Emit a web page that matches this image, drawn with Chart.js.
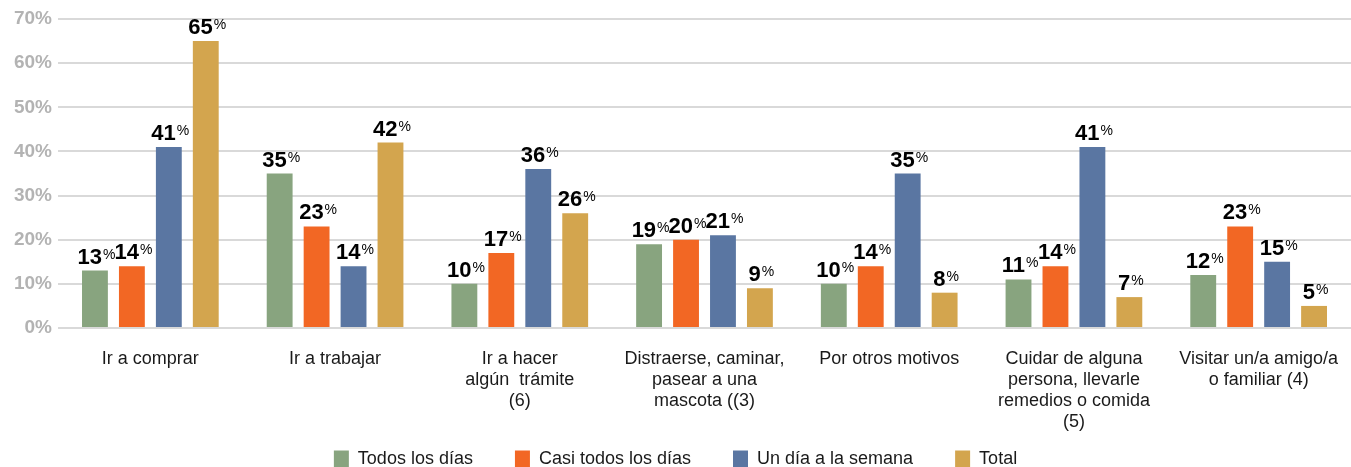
<!DOCTYPE html>
<html>
<head>
<meta charset="utf-8">
<script src="https://cdn.jsdelivr.net/npm/chart.js@4/dist/chart.umd.min.js"></script>
<style>
  html, body { margin: 0; padding: 0; background: #fff; }
  #wrap { width: 1351px; height: 467px; }
</style>
</head>
<body>
<div id="wrap"><canvas id="chart" width="1351" height="467"></canvas></div>
<script>
// categories (x axis labels, multi-line)
const categories = [
  'Ir a comprar',
  'Ir a trabajar',
  ['Ir a hacer', 'algún  trámite', '(6)'],
  ['Distraerse, caminar,', 'pasear a una', 'mascota ((3)'],
  'Por otros motivos',
  ['Cuidar de alguna', 'persona, llevarle', 'remedios o comida', '(5)'],
  ['Visitar un/a amigo/a', 'o familiar (4)']
];

// series values (%)
const todosLosDias = [13, 35, 10, 19, 10, 11, 12];
const casiTodosLosDias = [14, 23, 17, 20, 14, 14, 23];
const unDiaALaSemana = [41, 14, 36, 21, 35, 41, 15];
const total = [65, 42, 26, 9, 8, 7, 5];

const seriesNames = ['Todos los días', 'Casi todos los días', 'Un día a la semana', 'Total'];
const seriesColors = ['#88a47f', '#f26724', '#5a76a2', '#d3a54e'];

// y axis ticks
const yTicks = [0, 10, 20, 30, 40, 50, 60, 70];

const FONT = "'Liberation Sans', Arial, sans-serif";

// value labels above each bar: bold number + small "%"
const barLabels = {
  id: 'barLabels',
  afterDatasetsDraw(chart) {
    const ctx = chart.ctx;
    ctx.save();
    ctx.fillStyle = '#000';
    ctx.textBaseline = 'alphabetic';
    ctx.textAlign = 'left';
    chart.data.datasets.forEach((ds, i) => {
      const meta = chart.getDatasetMeta(i);
      meta.data.forEach((bar, j) => {
        const num = String(ds.data[j]);
        ctx.font = 'bold 22px ' + FONT;
        const wNum = ctx.measureText(num).width;
        ctx.font = '14px ' + FONT;
        const wPct = ctx.measureText('%').width;
        const x0 = bar.x - (wNum + wPct) / 2 + 1;
        const base = bar.y - 7;
        ctx.font = 'bold 22px ' + FONT;
        ctx.fillText(num, x0, base);
        ctx.font = '14px ' + FONT;
        ctx.fillText('%', x0 + wNum + 1, base - 5);
      });
    });
    ctx.restore();
  }
};

const datasets = [todosLosDias, casiTodosLosDias, unDiaALaSemana, total].map((d, i) => ({
  label: seriesNames[i],
  data: d,
  backgroundColor: seriesColors[i],
  borderWidth: 0,
  categoryPercentage: 0.8,
  barPercentage: 0.7
}));

new Chart(document.getElementById('chart'), {
  type: 'bar',
  data: { labels: categories, datasets: datasets },
  plugins: [barLabels],
  options: {
    responsive: false,
    animation: false,
    layout: { padding: { top: 19, right: 0, bottom: -11, left: 0 } },
    plugins: {
      tooltip: { enabled: false },
      legend: {
        position: 'bottom',
        labels: {
          boxWidth: 15,
          boxHeight: 17,
          padding: 12,
          color: '#1a1a1a',
          font: { family: FONT, size: 18 },
          // wider gaps between entries, like the original legend
          generateLabels(chart) {
            const items = Chart.defaults.plugins.legend.labels.generateLabels(chart);
            items.forEach((it, i) => {
              if (i < items.length - 1) it.text = it.text + '      ';
            });
            return items;
          }
        }
      }
    },
    scales: {
      x: {
        grid: { display: false },
        border: { display: false },
        ticks: {
          color: '#1a1a1a',
          font: { family: FONT, size: 18, lineHeight: '21px' },
          padding: 13,
          maxRotation: 0,
          autoSkip: false
        },
        afterFit(s) {
          s.height = 110;
          s.paddingLeft = 0;
          s.paddingRight = 0;
        }
      },
      y: {
        min: 0,
        max: 70,
        afterBuildTicks(s) { s.ticks = yTicks.map(v => ({ value: v })); },
        grid: { color: '#d9d9d9', lineWidth: 2, drawTicks: false },
        border: { display: false },
        ticks: {
          color: '#b3b3b3',
          font: { family: FONT, size: 19, weight: 'bold' },
          padding: 6,
          callback: v => v + '%'
        },
        afterFit(s) { s.width = 58; }
      }
    }
  }
});
</script>
</body>
</html>
